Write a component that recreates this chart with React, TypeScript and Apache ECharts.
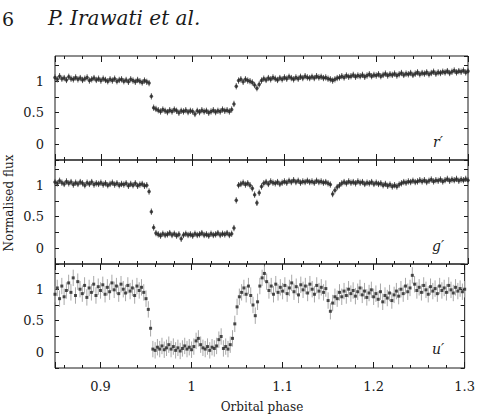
import React, { useEffect, useRef } from "react";
import * as echarts from "echarts";

// Sampling grid of the light curves (orbital phase)
const PHASE_START = 0.85;
const PHASE_STEP = 0.0025;
const N_POINTS = 181;
const PHASE: number[] = Array.from({ length: N_POINTS }, (_, i) => +(PHASE_START + i * PHASE_STEP).toFixed(4));

const R_FLUX = [
  1.06, 1.03, 1.08, 1.04, 1.05, 1.02, 1.07, 1.04, 1.03, 1.06,
  1.03, 1.05, 1.02, 1.04, 1.06, 1.01, 1.03, 1.05, 1.02, 1.04,
  1.01, 1.04, 1.02, 1.0, 1.03, 1.01, 1.04, 1.0, 1.02, 1.03,
  1.0, 1.02, 0.99, 1.03, 1.01, 0.99, 1.02, 1.0, 0.98, 1.01,
  0.99, 0.97, 0.76, 0.58,
  0.56, 0.54, 0.52, 0.55, 0.53, 0.51, 0.54, 0.52, 0.55, 0.53,
  0.5, 0.53, 0.52, 0.54, 0.51, 0.53, 0.52, 0.48, 0.53, 0.51,
  0.54, 0.52, 0.53, 0.5, 0.52, 0.54, 0.51, 0.53, 0.52, 0.55,
  0.53, 0.54, 0.52, 0.55, 0.64, 0.92,
  1.01, 1.03, 0.99, 1.03, 1.01, 1.0, 0.98, 0.94, 0.89, 0.95,
  1.01, 1.04, 1.02, 1.05, 1.03, 1.06, 1.04, 1.02, 1.05, 1.03,
  1.06, 1.04, 1.07, 1.05, 1.03, 1.06, 1.04, 1.07, 1.05, 1.08,
  1.06, 1.05, 1.07, 1.05, 1.08, 1.06, 1.07, 1.05, 1.06, 1.04,
  1.03, 1.01, 1.03, 1.05, 1.06, 1.08, 1.06, 1.09, 1.07, 1.08,
  1.1, 1.07, 1.09, 1.08, 1.1, 1.07, 1.09, 1.11, 1.08, 1.1,
  1.09, 1.11, 1.08, 1.1, 1.12, 1.09, 1.11, 1.1, 1.12, 1.09,
  1.11, 1.13, 1.1, 1.12, 1.11, 1.13, 1.1, 1.12, 1.14, 1.11,
  1.13, 1.12, 1.14, 1.11, 1.13, 1.15, 1.12, 1.14, 1.13, 1.15,
  1.14, 1.16, 1.13, 1.15, 1.17, 1.14, 1.16, 1.15, 1.17, 1.14, 1.16,
];

const G_FLUX = [
  1.05, 1.03, 1.07, 1.04, 1.02, 1.06, 1.03, 1.05, 1.01, 1.04,
  1.02, 1.05, 1.03, 1.0, 1.04, 1.02, 1.05, 1.01, 1.03, 1.02,
  1.04, 1.01, 1.03, 1.0, 1.02, 1.04, 1.01, 1.03, 1.0, 1.02,
  1.01, 1.03, 0.99, 1.02, 1.0, 1.03, 0.99, 1.01, 1.02, 0.99,
  1.0, 0.9, 0.58, 0.33,
  0.24, 0.22, 0.2, 0.23, 0.21, 0.22, 0.24, 0.21, 0.23, 0.2,
  0.22, 0.15, 0.21, 0.23, 0.21, 0.22, 0.2, 0.23, 0.21, 0.22,
  0.24, 0.21, 0.22, 0.2, 0.23, 0.21, 0.22, 0.24, 0.21, 0.23,
  0.22, 0.24, 0.21, 0.23, 0.32, 0.76,
  1.0, 1.02, 1.04, 1.01, 1.03, 1.0, 0.95, 0.85, 0.72, 0.88,
  0.98, 1.03, 1.05, 1.02, 1.06, 1.04, 1.03, 1.05, 1.02, 1.04,
  1.06, 1.04, 1.07, 1.05, 1.08, 1.05, 1.07, 1.04, 1.06, 1.05,
  1.07, 1.05, 1.06, 1.04, 1.07, 1.05, 1.06, 1.04, 1.05, 1.03,
  1.01, 0.86, 0.92, 0.97, 1.0, 1.03, 1.05, 1.03, 1.06, 1.04,
  1.05, 1.03, 1.06, 1.04, 1.05, 1.02, 1.04, 1.03, 1.05, 1.02,
  1.04, 1.02, 1.03, 1.0, 1.02, 0.99, 1.01, 0.98, 1.0, 0.98,
  1.01, 1.03, 1.05, 1.04, 1.06, 1.05, 1.07, 1.05, 1.06, 1.08,
  1.06, 1.08, 1.05, 1.07, 1.09, 1.06, 1.08, 1.07, 1.09, 1.06,
  1.08, 1.1, 1.07, 1.09, 1.08, 1.1, 1.07, 1.09, 1.08, 1.1, 1.08,
];

const U_FLUX = [
  0.92, 1.02, 0.85, 1.05, 0.88, 0.98, 1.1, 0.95, 1.18, 0.9,
  1.12, 1.0, 0.93, 1.06, 0.87, 1.02, 0.95, 1.08, 0.9, 1.04,
  0.98, 1.07, 0.92, 1.03, 0.96, 1.1, 0.99, 1.05, 0.93, 1.08,
  1.0, 0.94, 1.06, 0.97, 1.02, 0.9, 1.05, 0.98, 1.03, 0.95,
  0.85, 0.68, 0.38, 0.05,
  0.03, 0.08, 0.05, 0.1, 0.04, 0.07, 0.12, 0.05, 0.09, 0.03,
  0.07, 0.02, 0.06, 0.1, 0.05, 0.08, 0.04, 0.09, 0.18, 0.22,
  0.12, 0.07, 0.05, 0.09, 0.03, 0.08, 0.06, 0.1, 0.2, 0.25,
  0.06, 0.09, 0.05, 0.12, 0.22, 0.45,
  0.72, 0.88, 0.95, 1.02, 0.92, 1.05, 0.9, 0.75, 0.58, 0.8,
  1.05, 1.18, 1.25, 1.12, 0.98, 1.05, 0.92, 1.08, 0.95, 1.03,
  0.97, 1.06, 0.93, 1.02, 1.1, 0.96, 1.04, 0.91, 1.07, 0.99,
  1.05, 0.94, 1.08, 1.0, 0.92, 1.06, 0.97, 1.03, 0.95, 1.01,
  0.82, 0.65, 0.78, 0.88, 0.85, 0.95, 0.88, 0.97, 0.9, 1.0,
  0.93, 0.98, 0.89, 0.96, 1.02, 0.91, 0.97, 0.87, 0.94, 0.99,
  0.88, 0.93, 0.84, 0.96, 0.8, 0.9, 0.86, 0.94, 0.82, 0.91,
  0.97, 0.89, 1.0, 0.93, 1.05, 0.96, 1.02, 1.22, 1.08, 0.98,
  1.03, 0.95, 1.06, 0.99, 0.92, 1.04, 0.97, 1.01, 0.93, 1.05,
  0.98, 1.02, 0.95, 1.06, 0.99, 0.94, 1.03, 0.97, 1.01, 0.96, 1.0,
];

const BAND_NAMES = ["r\u2032", "g\u2032", "u\u2032"];
const BAND_ERRORS = [0.05, 0.05, 0.13];
const Y_TICK_LABELS = [0, 0.5, 1];

const FONT = "DejaVu Serif";
const INK = "#1a1a1a";

export default function App() {
  const ref = useRef<HTMLDivElement>(null);

  useEffect(() => {
    if (!ref.current) return;
    const chart = echarts.init(ref.current, undefined, { renderer: "svg" });

    const fluxes = [R_FLUX, G_FLUX, U_FLUX];
    const tops = [56, 160, 264];
    const grids = tops.map((t) => ({
      left: 55,
      right: 10,
      top: t,
      height: 104,
      show: true,
      borderColor: INK,
      borderWidth: 1,
      backgroundColor: "transparent",
    }));

    const xAxes: any[] = [];
    const yAxes: any[] = [];
    for (let g = 0; g < 3; g++) {
      for (const pos of ["bottom", "top"]) {
        xAxes.push({
          type: "value",
          gridIndex: g,
          position: pos,
          min: 0.85,
          max: 1.3,
          splitNumber: 5,
          axisLine: { show: false, onZero: false },
          splitLine: { show: false },
          axisTick: { show: true, inside: true, length: 6, lineStyle: { color: INK } },
          minorTick: { show: true, splitNumber: 5, length: 3, lineStyle: { color: INK } },
          axisLabel: {
            show: g === 2 && pos === "bottom",
            showMinLabel: false,
            margin: 12,
            fontFamily: FONT,
            fontSize: 13,
            color: INK,
          },
        });
      }
      for (const pos of ["left", "right"]) {
        yAxes.push({
          type: "value",
          gridIndex: g,
          position: pos,
          min: -0.25,
          max: 1.4,
          interval: 0.25,
          axisLine: { show: false, onZero: false },
          splitLine: { show: false },
          axisTick: { show: true, inside: true, length: 4, lineStyle: { color: INK } },
          axisLabel: {
            show: pos === "left",
            showMaxLabel: false,
            margin: 11,
            fontFamily: FONT,
            fontSize: 13,
            color: INK,
            formatter: (v: number) => {
              const hit = Y_TICK_LABELS.find((t) => Math.abs(t - v) < 1e-6);
              return hit === undefined ? "" : String(hit);
            },
          },
        });
      }
    }

    const series: any[] = [];
    fluxes.forEach((flux, g) => {
      const data = PHASE.map((p, i) => [p, flux[i]]);
      const err = BAND_ERRORS[g];
      const isU = g === 2;
      series.push({
        type: "custom",
        xAxisIndex: g * 2,
        yAxisIndex: g * 2,
        data,
        silent: true,
        z: 1,
        renderItem: (_params: any, api: any) => {
          const x = api.value(0);
          const y = api.value(1);
          const a = api.coord([x, y - err]);
          const b = api.coord([x, y + err]);
          return {
            type: "line",
            shape: { x1: a[0], y1: a[1], x2: b[0], y2: b[1] },
            style: { stroke: isU ? "#a8a8a8" : "#555", lineWidth: 1 },
          };
        },
      });
      series.push({
        type: "scatter",
        xAxisIndex: g * 2,
        yAxisIndex: g * 2,
        data,
        symbol: isU ? "rect" : "circle",
        symbolSize: isU ? 3 : 3.5,
        itemStyle: { color: "#222" },
        silent: true,
        z: 2,
      });
    });

    const labelTops = [142, 246, 349];
    const txt = (text: string, size: number, italic: boolean) => ({
      text,
      fontFamily: FONT,
      fontSize: size,
      fontStyle: italic ? "italic" : "normal",
      fill: INK,
    });
    const graphic: any[] = [
      { type: "text", left: 2, top: 9, style: txt("6", 19, false) },
      { type: "text", left: 48, top: 8, style: txt("P. Irawati et al.", 20, true) },
      {
        type: "text",
        x: 3,
        y: 203,
        rotation: Math.PI / 2,
        style: { ...txt("Normalised flux", 12, false), align: "center", verticalAlign: "top" },
      },
      {
        type: "text",
        x: 262,
        y: 407,
        style: { ...txt("Orbital phase", 12, false), align: "center", verticalAlign: "middle" },
      },
      ...BAND_NAMES.map((name, i) => ({
        type: "text",
        x: 438,
        y: labelTops[i],
        style: { ...txt(name, 14, true), align: "center", verticalAlign: "middle" },
      })),
    ];

    chart.setOption({
      animation: false,
      backgroundColor: "#fff",
      grid: grids,
      xAxis: xAxes,
      yAxis: yAxes,
      series,
      graphic,
    });

    return () => chart.dispose();
  }, []);

  return (
    <div
      ref={ref}
      style={{ position: "fixed", left: 0, top: 0, width: 478, height: 418 }}
    />
  );
}
